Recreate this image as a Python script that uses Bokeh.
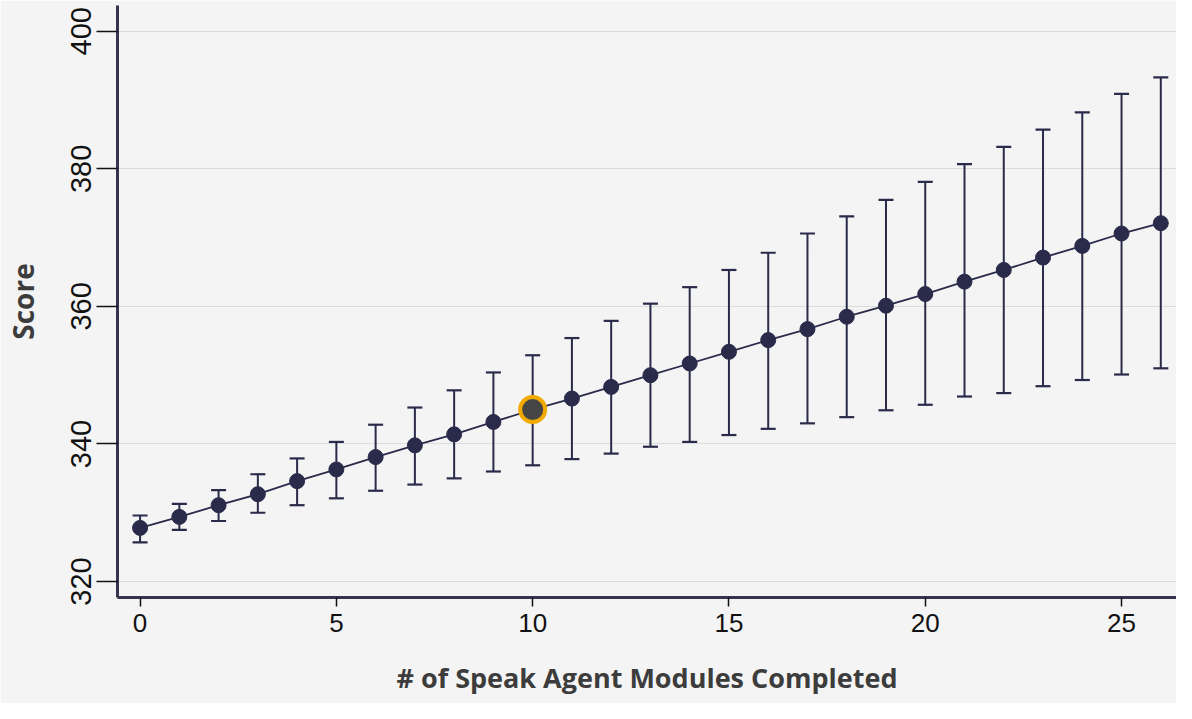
from bokeh.plotting import figure
from bokeh.models import Range1d, FixedTicker, ColumnDataSource
from bokeh.embed import file_html
from bokeh.resources import INLINE

modules = list(range(27))
score = [327.8, 329.4, 331.1, 332.7, 334.6, 336.3, 338.1, 339.8, 341.4, 343.2,
         345.0, 346.6, 348.3, 350.0, 351.7, 353.4, 355.1, 356.7, 358.5, 360.1,
         361.8, 363.6, 365.3, 367.1, 368.8, 370.6, 372.1]
upper = [329.6, 331.3, 333.3, 335.6, 337.9, 340.3, 342.8, 345.3, 347.8, 350.4,
         352.9, 355.4, 357.9, 360.4, 362.8, 365.3, 367.8, 370.6, 373.1, 375.5,
         378.1, 380.7, 383.2, 385.7, 388.2, 390.9, 393.3]
lower = [325.7, 327.5, 328.8, 330.0, 331.1, 332.1, 333.2, 334.1, 335.0, 336.0,
         336.9, 337.8, 338.6, 339.6, 340.3, 341.3, 342.2, 343.0, 343.9, 344.9,
         345.7, 346.9, 347.4, 348.4, 349.3, 350.1, 351.0]
highlight_index = 10
x_ticks = [0, 5, 10, 15, 20, 25]
y_ticks = [320, 340, 360, 380, 400]
x_title = "# of Speak Agent Modules Completed"
y_title = "Score"

NAVY = "#2a2a4a"
BG = "#f4f4f4"

src = ColumnDataSource(dict(x=modules, y=score, up=upper, lo=lower))

p = figure(width=1176, height=703, output_backend="svg", toolbar_location=None,
           x_range=Range1d(-0.575, 26.40), y_range=Range1d(317.68, 403.75),
           min_border_left=115, min_border_right=0, min_border_top=5,
           min_border_bottom=106)
p.background_fill_color = BG
p.border_fill_color = BG
p.outline_line_color = None

p.xgrid.visible = False
p.ygrid.ticker = FixedTicker(ticks=y_ticks)
p.ygrid.grid_line_color = "#dcdcdc"
p.ygrid.grid_line_width = 1

# error bars
p.segment(x0="x", y0="lo", x1="x", y1="up", source=src, line_color=NAVY, line_width=2)
p.scatter(x="x", y="up", source=src, marker="dash", size=15, line_color=NAVY, line_width=2.2)
p.scatter(x="x", y="lo", source=src, marker="dash", size=15, line_color=NAVY, line_width=2.2)
# line
p.line(x="x", y="y", source=src, line_color=NAVY, line_width=1.8)
# points
p.scatter(x="x", y="y", source=src, size=15, fill_color=NAVY, line_color=NAVY)
# highlighted
p.scatter(x=[modules[highlight_index]], y=[score[highlight_index]], size=25,
          fill_color="#454545", line_color="#f2a900", line_width=4)

for ax in (p.xaxis[0], p.yaxis[0]):
    ax.axis_line_color = "#34344e"
    ax.axis_line_width = 3
    ax.major_tick_line_color = "#111111"
    ax.major_tick_line_width = 1.5
    ax.major_tick_in = 0
    ax.minor_tick_line_color = None
    ax.major_label_text_font = "Liberation Sans"
    ax.major_label_text_color = "#111111"
    ax.axis_label_text_font = "Open Sans"
    ax.axis_label_text_font_style = "bold"
    ax.axis_label_text_color = "#3c3c3c"

p.xaxis.ticker = FixedTicker(ticks=x_ticks)
p.xaxis.major_tick_out = 9
p.xaxis.major_label_standoff = 7
p.xaxis.major_label_text_font_size = "26px"
p.xaxis.axis_label = x_title
p.xaxis.axis_label_text_font_size = "27px"
p.xaxis.axis_label_standoff = 24

p.yaxis.ticker = FixedTicker(ticks=y_ticks)
p.yaxis.major_tick_out = 21
p.yaxis.major_label_standoff = 5
p.yaxis.major_label_orientation = "parallel"
p.yaxis.major_label_text_font_size = "29px"
p.yaxis.axis_label = y_title
p.yaxis.axis_label_text_font_size = "28px"
p.yaxis.axis_label_standoff = 27

open("out.html", "w").write(file_html(p, INLINE))
